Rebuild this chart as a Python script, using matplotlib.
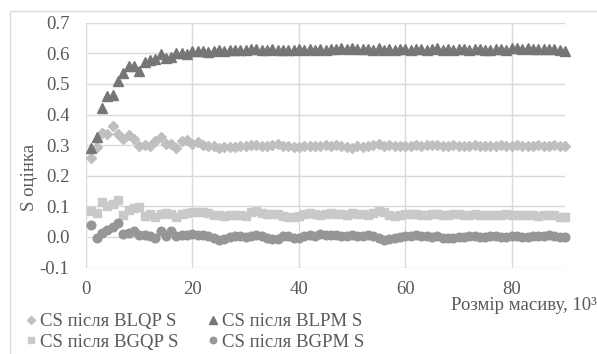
import matplotlib
matplotlib.use("Agg")
import matplotlib.pyplot as plt
from matplotlib.patches import Rectangle
import numpy as np

x = list(range(1, 91))

blqp = [0.257, 0.293, 0.341, 0.338, 0.363, 0.338, 0.319, 0.334, 0.319, 0.297,
        0.300, 0.297, 0.315, 0.326, 0.305, 0.305, 0.290, 0.312, 0.317, 0.305,
        0.310, 0.300, 0.297, 0.296, 0.292, 0.295, 0.293, 0.295, 0.297, 0.298,
        0.302, 0.300, 0.298, 0.297, 0.299, 0.303, 0.298, 0.296, 0.294, 0.295,
        0.297, 0.298, 0.296, 0.298, 0.300, 0.297, 0.301, 0.296, 0.295, 0.292,
        0.296, 0.294, 0.297, 0.300, 0.303, 0.297, 0.299, 0.298, 0.296, 0.297,
        0.298, 0.299, 0.297, 0.300, 0.302, 0.299, 0.298, 0.297, 0.299, 0.298,
        0.296, 0.297, 0.299, 0.298, 0.296, 0.298, 0.297, 0.299, 0.298, 0.297,
        0.299, 0.298, 0.297, 0.298, 0.299, 0.298, 0.297, 0.299, 0.298, 0.296]

blpm = [0.290, 0.325, 0.420, 0.462, 0.464, 0.508, 0.535, 0.559, 0.559, 0.543,
        0.570, 0.577, 0.582, 0.598, 0.584, 0.587, 0.600, 0.600, 0.598, 0.606,
        0.608, 0.606, 0.604, 0.608, 0.610, 0.609, 0.611, 0.610, 0.612, 0.611,
        0.613, 0.615, 0.611, 0.612, 0.613, 0.611, 0.612, 0.610, 0.611, 0.614,
        0.612, 0.613, 0.611, 0.613, 0.612, 0.614, 0.615, 0.616, 0.613, 0.617,
        0.614, 0.613, 0.615, 0.612, 0.617, 0.611, 0.613, 0.612, 0.614, 0.613,
        0.612, 0.614, 0.613, 0.612, 0.613, 0.616, 0.612, 0.613, 0.611, 0.614,
        0.613, 0.612, 0.614, 0.613, 0.611, 0.612, 0.613, 0.614, 0.612, 0.616,
        0.617, 0.614, 0.616, 0.615, 0.613, 0.614, 0.615, 0.613, 0.611, 0.609]

bgqp = [0.085, 0.077, 0.115, 0.100, 0.108, 0.120, 0.072, 0.087, 0.095, 0.097,
        0.069, 0.075, 0.066, 0.075, 0.077, 0.075, 0.066, 0.075, 0.077, 0.080,
        0.083, 0.082, 0.079, 0.073, 0.072, 0.070, 0.071, 0.073, 0.072, 0.070,
        0.081, 0.085, 0.078, 0.076, 0.075, 0.074, 0.068, 0.066, 0.065, 0.067,
        0.075, 0.078, 0.074, 0.072, 0.076, 0.078, 0.075, 0.074, 0.073, 0.077,
        0.076, 0.075, 0.073, 0.078, 0.085, 0.082, 0.072, 0.070, 0.073, 0.075,
        0.076, 0.074, 0.072, 0.073, 0.075, 0.074, 0.072, 0.073, 0.075, 0.074,
        0.073, 0.072, 0.074, 0.073, 0.072, 0.071, 0.073, 0.072, 0.074, 0.073,
        0.072, 0.071, 0.073, 0.072, 0.070, 0.071, 0.073, 0.072, 0.066, 0.065]

bgpm = [0.039, -0.004, 0.012, 0.022, 0.031, 0.045, 0.009, 0.012, 0.020, 0.007,
        0.007, 0.004, -0.004, 0.018, 0.004, 0.018, 0.002, 0.007, 0.005, 0.010,
        0.008, 0.006, 0.004, -0.004, -0.010, -0.006, 0.000, 0.004, 0.002, 0.000,
        0.003, 0.005, 0.002, -0.003, -0.008, -0.005, 0.002, 0.004, -0.002, -0.004,
        0.003, 0.006, 0.004, 0.010, 0.008, 0.005, 0.006, 0.004, 0.003, 0.005,
        0.002, 0.004, 0.006, 0.003, -0.004, -0.010, -0.008, -0.003, 0.000, 0.003,
        0.004, 0.005, 0.003, 0.002, 0.000, 0.002, -0.002, -0.004, -0.002, 0.000,
        0.001, 0.003, 0.002, 0.000, 0.001, 0.003, 0.002, 0.001, 0.000, 0.002,
        0.003, 0.001, 0.000, 0.002, 0.004, 0.003, 0.006, 0.004, 0.000, -0.001]

labels = ["CS після BLQP S", "CS після BLPM S", "CS після BGQP S", "CS після BGPM S"]
xticks = [0, 20, 40, 60, 80]
yticks = [-0.1, 0.0, 0.1, 0.2, 0.3, 0.4, 0.5, 0.6, 0.7]

plt.rcParams['font.family'] = ['Liberation Serif', 'DejaVu Serif']
FS = 13.5
TXT = '#595959'
GRID = '#d9d9d9'

W, H = 597, 354
fig = plt.figure(figsize=(W / 100, H / 100), dpi=100)
fig.patch.set_facecolor('white')

# outer chart border
fig.add_artist(Rectangle((9.5 / W, -0.1), 1.2, (H - 11.5) / H + 0.1,
                         transform=fig.transFigure, fill=False,
                         edgecolor=GRID, linewidth=1.0))

ax = fig.add_axes([86 / W, (H - 267.6) / H, (565 - 86) / W, (267.6 - 22.7) / H])
ax.set_xlim(0, 90)
ax.set_ylim(-0.1, 0.7)
ax.set_xticks(xticks)
ax.set_yticks(yticks)
ax.set_xticklabels([str(v) for v in xticks])
ax.set_yticklabels([f"{v:.1f}" for v in yticks])
for s in ax.spines.values():
    s.set_visible(False)
ax.grid(True, color=GRID, linewidth=1.0)
ax.set_axisbelow(True)
ax.tick_params(length=0, labelsize=FS, colors=TXT)
ax.tick_params(axis='y', pad=12)
ax.tick_params(axis='x', pad=10)

h1, = ax.plot(x, blqp, linestyle='none', marker='D', ms=5.2, color='#bfbfbf', mec='#bfbfbf', clip_on=False)
h2, = ax.plot(x, blpm, linestyle='none', marker='^', ms=7.0, color='#767676', mec='#767676', clip_on=False)
h3, = ax.plot(x, bgqp, linestyle='none', marker='s', ms=5.6, color='#c9c9c9', mec='#c9c9c9', clip_on=False)
h4, = ax.plot(x, bgpm, linestyle='none', marker='o', ms=6.2, color='#969696', mec='#969696', clip_on=False)

leg = fig.legend([h1, h3, h2, h4], [labels[0], labels[2], labels[1], labels[3]],
                 ncol=2, loc='upper left', bbox_to_anchor=(26 / W, (H - 313) / H),
                 frameon=False, fontsize=FS, handlelength=0.55, handletextpad=0.2,
                 columnspacing=1.55, labelspacing=0.2, borderaxespad=0, borderpad=0,
                 markerscale=0.75)
for t in leg.get_texts():
    t.set_color(TXT)

fig.text(30 / W, (H - 177) / H, "S оцінка", rotation=90, ha='center', va='center',
         fontsize=FS, color=TXT)
fig.text(597 / W, (H - 306) / H, "Розмір масиву, 10³", ha='right', va='center',
         fontsize=FS, color=TXT)

fig.savefig("out.png", dpi=100)
